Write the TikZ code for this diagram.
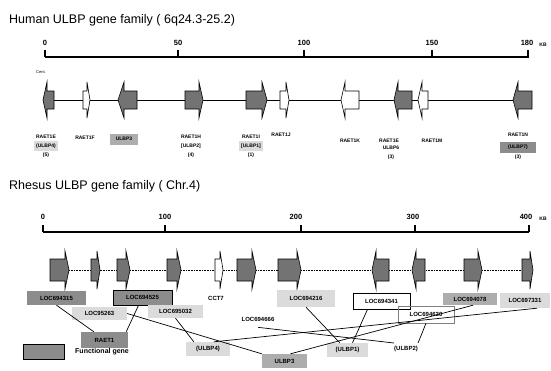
\documentclass[tikz,border=0pt]{standalone}
\usepackage{fontspec}
\setmainfont{Liberation Sans}
\definecolor{genefill}{gray}{0.45}
\definecolor{darkbox}{gray}{0.55}
\definecolor{midbox}{gray}{0.68}
\definecolor{lightbox}{gray}{0.86}
\newcommand{\genehuman}[4]{%
  \filldraw[genebody,fill=#4] (#1,91) -- (#2,91) -- (#2,82) -- (#3,100) -- (#2,118) -- (#2,109) -- (#1,109) -- cycle;}
\newcommand{\generhesus}[4]{%
  \filldraw[genebody,fill=#4] (#1,259) -- (#2,259) -- (#2,251) -- (#3,270) -- (#2,289) -- (#2,281) -- (#1,281) -- cycle;}
\begin{document}
\begin{tikzpicture}[x=1pt,y=-1pt,
  genebody/.style={draw=black,line width=0.6pt,line join=miter},
  ttl/.style={anchor=west,inner sep=0pt,font=\fontsize{12.5}{14}\selectfont},
  num/.style={inner sep=0pt,font=\bfseries\fontsize{7.5}{9}\selectfont},
  hl/.style={inner sep=0pt,font=\bfseries\fontsize{5}{6}\selectfont,align=center},
  rl/.style={inner sep=0pt,font=\bfseries\fontsize{6}{7}\selectfont},
  axis/.style={line width=1.2pt},
  conn/.style={line width=0.7pt},
  backbone/.style={line width=0.6pt}]
\useasboundingbox (0,0) rectangle (551,370);
\fill[white] (0,0) rectangle (551,370);

% ---------------- Human ----------------
\node[ttl] (htitle) at (9,20) {Human ULBP gene family ( 6q24.3-25.2)};
\draw[axis] (45,57) -- (529,57);
\foreach \x in {45,178,304,432,528} \draw[axis] (\x,50) -- (\x,57);
\node[num] (h0) at (45,43) {0};
\node[num] (h50) at (178,43) {50};
\node[num] (h100) at (304,43) {100};
\node[num] (h150) at (432,43) {150};
\node[num] (h180) at (527,43) {180};
\node[inner sep=0pt,font=\bfseries\fontsize{5}{6}\selectfont] (hkb) at (543,45) {KB};
\node[inner sep=0pt,font=\fontsize{4}{5}\selectfont] (cent) at (41,72) {Cent.};

\draw[backbone] (45,100) -- (530,100);
\genehuman{54}{47}{43}{genefill}
\genehuman{83}{87}{90}{white}
\genehuman{137}{124}{118}{genefill}
\genehuman{185}{199}{203}{genefill}
\genehuman{246}{262}{267}{genefill}
\genehuman{280}{286}{289}{white}
\genehuman{359}{345}{341}{white}
\genehuman{412}{398}{394}{genefill}
\genehuman{428}{422}{418}{white}
\genehuman{532}{518}{513}{genefill}

\node[hl] (h1a) at (46,137) {RAET1E};
\node[hl,fill=lightbox,minimum width=24pt,minimum height=10pt] (h1b) at (46,146) {(ULBP4)};
\node[hl] (h1c) at (46,155) {(5)};
\node[hl] (h2) at (85,138) {RAET1F};
\node[hl,fill=midbox,minimum width=28pt,minimum height=11pt] (h3) at (124,139) {ULBP3};
\node[hl] (h4a) at (191,137) {RAET1H};
\node[hl] (h4b) at (191,146) {[ULBP2]};
\node[hl] (h4c) at (191,155) {(4)};
\node[hl] (h5a) at (251,137) {RAET1I};
\node[hl,fill=lightbox,minimum width=24pt,minimum height=10pt] (h5b) at (251,146) {[ULBP1]};
\node[hl] (h5c) at (251,155) {(1)};
\node[hl] (h6) at (281,135) {RAET1J};
\node[hl] (h7) at (350,141) {RAET1K};
\node[hl] (h8a) at (389,141) {RAET1E};
\node[hl] (h8b) at (391,148) {ULBP6};
\node[hl] (h8c) at (391,157) {(3)};
\node[hl] (h9) at (432,141) {RAET1M};
\node[hl] (h10a) at (518,135) {RAET1N};
\node[hl,fill=darkbox,minimum width=36pt,minimum height=11pt] (h10b) at (518,147) {(ULBP7)};
\node[hl] (h10c) at (518,157) {(3)};

% ---------------- Rhesus ----------------
\node[ttl] (rtitle) at (9,186) {Rhesus ULBP gene family ( Chr.4)};
\draw[axis] (43,232) -- (529,232);
\foreach \x in {43,165,301,415,529} \draw[axis] (\x,225) -- (\x,232);
\node[num] (r0) at (43,217) {0};
\node[num] (r100) at (165,217) {100};
\node[num] (r200) at (296,217) {200};
\node[num] (r300) at (413,217) {300};
\node[num] (r400) at (526,217) {400};
\node[inner sep=0pt,font=\bfseries\fontsize{5}{6}\selectfont] (rkb) at (543,219) {KB};

\draw[backbone,densely dotted] (50,270) -- (530,270);
\generhesus{50}{65}{69}{genefill}
\generhesus{91}{97}{100}{genefill}
\generhesus{117}{126}{130}{genefill}
\generhesus{167}{177}{181}{genefill}
\generhesus{215}{220}{223}{white}
\generhesus{237}{252}{256}{genefill}
\generhesus{278}{297}{301}{genefill}
\generhesus{389}{376}{372}{genefill}
\generhesus{425}{416}{412}{genefill}
\generhesus{464}{478}{482}{genefill}
\generhesus{522}{530}{533}{genefill}

\node[rl,fill=darkbox,minimum width=59pt,minimum height=14pt] (loc315) at (56.5,298) {LOC694315};
\node[rl,fill=darkbox,draw=black,line width=0.8pt,minimum width=59pt,minimum height=15pt] (loc525) at (142.5,297.5) {LOC694525};
\node[rl,fill=lightbox,minimum width=55pt,minimum height=13pt] (loc263) at (99.5,313.5) {LOC95263};
\node[rl,fill=darkbox,minimum width=47pt,minimum height=16pt] (raet1) at (104.5,340) {RAET1};
\node[rl,fill=lightbox,minimum width=55pt,minimum height=13pt] (loc032) at (175.5,311.5) {LOC695032};
\node[rl] (cct7) at (216,298) {CCT7};
\node[rl] (loc666) at (258,319) {LOC694666};
\node[rl,fill=lightbox,minimum width=44pt,minimum height=14pt] (ulbp4) at (208,349) {(ULBP4)};
\node[rl,fill=midbox,minimum width=45pt,minimum height=14pt] (ulbp3) at (284.5,361) {ULBP3};
\node[rl,fill=lightbox,minimum width=58pt,minimum height=17pt] (loc216) at (306,298.5) {LOC694216};
\node[rl,fill=lightbox,minimum width=41pt,minimum height=14pt] (ulbp1) at (347.5,350) {(ULBP1)};
\node[rl,fill=white,draw=black,line width=0.8pt,minimum width=57pt,minimum height=16pt] (loc341) at (381.5,301) {LOC694341};
\node[rl,draw=gray,line width=0.6pt,minimum width=56pt,minimum height=17pt] (loc620) at (426,314.5) {LOC694620};
\node[rl,fill=midbox,minimum width=54pt,minimum height=12pt] (loc078) at (470,299) {LOC694078};
\node[rl,fill=lightbox,minimum width=50pt,minimum height=15pt] (loc331) at (525,300.5) {LOC697331};
\node[rl] (ulbp2) at (406,349) {(ULBP2)};

\draw[conn] (loc315.south) -- ([xshift=13pt]raet1.north west);
\draw[conn] ([xshift=-4pt]loc525.south) -- ([xshift=-2pt]raet1.north east);
\draw[conn] (loc263.east) -- (ulbp3.north west);
\draw[conn] (loc032.south) -- ([xshift=8pt]ulbp4.north west);
\draw[conn] (loc216.south) -- ([xshift=13pt]ulbp1.north west);
\draw[conn] ([yshift=-6pt]loc666.south) -- ([yshift=3pt]ulbp2.north west);
\draw[conn] ([xshift=-14pt]loc341.south) -- ([xshift=5pt]ulbp1.north);
\draw[conn] (loc620.south) -- ([yshift=3pt]ulbp2.north east);
\draw[conn] ([xshift=3pt]loc078.south) -- ([xshift=6pt]ulbp3.north);
\draw[conn] ([xshift=12pt]loc331.south) -- ([xshift=6pt]ulbp4.north);

% legend
\node[fill=darkbox,draw=black,line width=0.6pt,minimum width=41pt,minimum height=15pt,inner sep=0pt] (legbox) at (43.5,351.5) {};
\node[anchor=west,inner sep=0pt,font=\bfseries\fontsize{7}{8}\selectfont] (legtxt) at (75,351.5) {Functional gene};
\end{tikzpicture}
\end{document}
